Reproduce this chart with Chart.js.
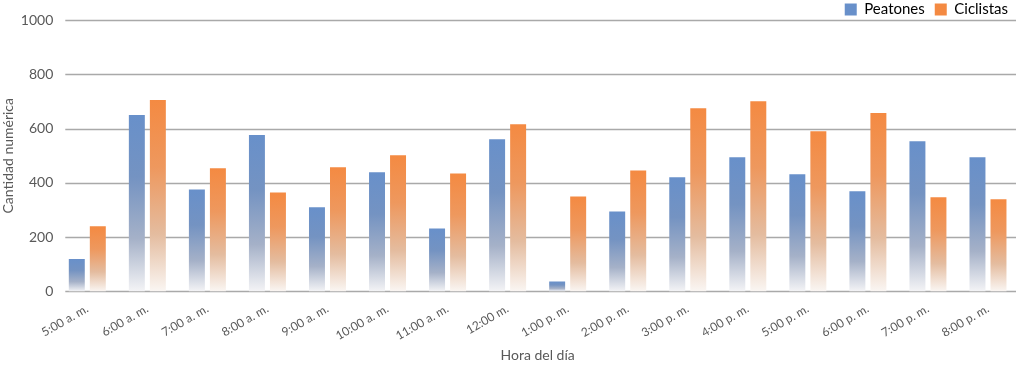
<!DOCTYPE html>
<html>
<head>
<meta charset="utf-8">
<script src="https://cdn.jsdelivr.net/npm/chart.js@4/dist/chart.umd.min.js"></script>
<style>
  html, body { margin: 0; padding: 0; background: #ffffff; }
  #wrap { width: 1018px; height: 366px; }
</style>
</head>
<body>
<div id="wrap"><canvas id="c" width="1018" height="366"></canvas></div>
<script>
const categories = ["5:00 a. m.", "6:00 a. m.", "7:00 a. m.", "8:00 a. m.", "9:00 a. m.", "10:00 a. m.", "11:00 a. m.", "12:00 m.", "1:00 p. m.", "2:00 p. m.", "3:00 p. m.", "4:00 p. m.", "5:00 p. m.", "6:00 p. m.", "7:00 p. m.", "8:00 p. m."];
const peatones = [120, 650, 376, 576, 310, 439, 232, 561, 37, 295, 421, 494, 432, 369, 553, 494];
const ciclistas = [240, 705, 454, 365, 458, 502, 435, 616, 350, 446, 675, 701, 590, 657, 347, 340];
const yTicks = [0, 200, 400, 600, 800, 1000];

const FONT = "Lato, 'Open Sans', sans-serif";
const TXT = "#595959";

function barGradient(stops) {
  return function (ctx) {
    const chart = ctx.chart;
    const area = chart.chartArea;
    if (!area || ctx.raw === undefined) return stops[0][1];
    const y = chart.scales.y;
    const top = y.getPixelForValue(ctx.raw);
    const bottom = y.getPixelForValue(0);
    if (!isFinite(top) || !isFinite(bottom) || bottom - top < 1) return stops[0][1];
    const g = chart.ctx.createLinearGradient(0, top, 0, bottom);
    stops.forEach(s => g.addColorStop(s[0], s[1]));
    return g;
  };
}

const blueStops = [[0, "#6890ca"], [0.35, "#7493c2"], [0.7, "#a5b1c8"], [1, "#f4f4f6"]];
const orangeStops = [[0, "#f48a42"], [0.35, "#ee985e"], [0.7, "#e4bc9f"], [1, "#faf6f3"]];

// Horizontal gridlines drawn from the y scale's tick values, starting a little inside the plot area
const gridPlugin = {
  id: "insetGrid",
  beforeDatasetsDraw(chart) {
    const { ctx, chartArea, scales } = chart;
    ctx.save();
    ctx.strokeStyle = "#a9a9a9";
    ctx.lineWidth = 1.5;
    scales.y.ticks.forEach(t => {
      const py = Math.round(scales.y.getPixelForValue(t.value)) + 0.5;
      ctx.beginPath();
      ctx.moveTo(chartArea.left + 8, py);
      ctx.lineTo(chartArea.right - 2, py);
      ctx.stroke();
    });
    ctx.restore();
  }
};

new Chart(document.getElementById("c"), {
  type: "bar",
  data: {
    labels: categories,
    datasets: [
      { label: "Peatones", data: peatones, backgroundColor: barGradient(blueStops),
        categoryPercentage: 0.70, barPercentage: 0.76 },
      { label: "Ciclistas", data: ciclistas, backgroundColor: barGradient(orangeStops),
        categoryPercentage: 0.70, barPercentage: 0.76 }
    ]
  },
  plugins: [gridPlugin],
  options: {
    responsive: false,
    animation: false,
    layout: { padding: { left: 0, right: 0, top: -8, bottom: 0 } },
    plugins: {
      legend: {
        position: "top",
        align: "end",
        maxHeight: 28,
        labels: {
          boxWidth: 12, boxHeight: 12, padding: 10,
          color: TXT, font: { family: FONT, size: 15 },
          generateLabels: (chart) => chart.data.datasets.map((d, i) => ({
            text: d.label,
            fillStyle: i === 0 ? "#6890ca" : "#f48a42",
            strokeStyle: "rgba(0,0,0,0)", lineWidth: 0,
            datasetIndex: i, hidden: false
          }))
        }
      },
      tooltip: { enabled: false }
    },
    scales: {
      x: {
        grid: { display: false },
        border: { display: false },
        ticks: { color: TXT, font: { family: FONT, size: 12 }, minRotation: 30, maxRotation: 30, padding: 2 },
        title: { display: true, text: "Hora del día", color: TXT, font: { family: FONT, size: 14 }, padding: { top: 2, bottom: 2 } }
      },
      y: {
        min: 0, max: 1000,
        afterBuildTicks: (axis) => { axis.ticks = yTicks.map(v => ({ value: v })); },
        grid: { display: false, drawTicks: false },
        border: { display: false },
        ticks: { color: TXT, font: { family: FONT, size: 14 }, padding: 4, callback: (v) => String(v) },
        title: { display: true, text: "Cantidad numérica", color: TXT, font: { family: FONT, size: 14 }, padding: { top: 0, bottom: 0 } }
      }
    }
  }
});
</script>
</body>
</html>
